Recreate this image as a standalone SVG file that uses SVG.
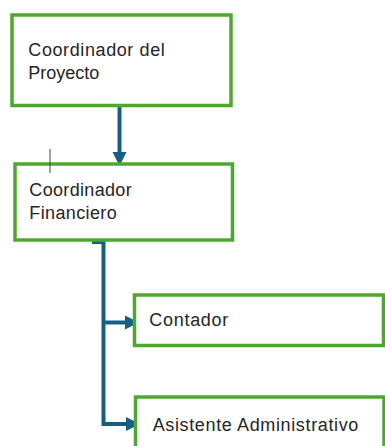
<svg xmlns="http://www.w3.org/2000/svg" width="385" height="446" viewBox="0 0 385 446">
  <style>
    .box { fill: #ffffff; stroke: #4ea72e; stroke-width: 3.5; }
    .lbl { font-family: "Liberation Sans", Arial, sans-serif; font-size: 18px; fill: #262626; }
    .conn { fill: none; stroke: #156082; stroke-width: 4; marker-end: url(#arrow); }
  </style>
  <defs>
    <marker id="arrow" markerUnits="userSpaceOnUse" markerWidth="14" markerHeight="14" refX="0" refY="7" orient="auto" overflow="visible">
      <path d="M0,0 L14,7 L0,14 Z" fill="#156082"/>
    </marker>
  </defs>
  <rect width="385" height="446" fill="#ffffff"/>

  <g id="connectors">
    <path class="conn" d="M119.5,107 V152"/>
    <path class="conn" d="M92,242 H103.5 V424 H126"/>
    <path class="conn" d="M103.5,322.5 H125"/>
  </g>

  <g id="node-coordinador-proyecto">
    <rect class="box" x="12" y="15" width="219" height="90.5"/>
    <text class="lbl" x="28.3" y="55.7" textLength="136.5" lengthAdjust="spacing">Coordinador del</text>
    <text class="lbl" x="28.3" y="78.7">Proyecto</text>
  </g>

  <g id="node-coordinador-financiero">
    <rect class="box" x="15" y="164" width="217.5" height="76"/>
    <text class="lbl" x="29.3" y="195.7" textLength="102.4" lengthAdjust="spacing">Coordinador</text>
    <text class="lbl" x="29.3" y="219" textLength="87.4" lengthAdjust="spacing">Financiero</text>
  </g>

  <g id="node-contador">
    <rect class="box" x="134.5" y="295" width="249" height="50.5"/>
    <text class="lbl" x="149.3" y="325.7" textLength="79" lengthAdjust="spacing">Contador</text>
  </g>

  <g id="node-asistente">
    <rect class="box" x="135.5" y="397" width="248.5" height="62"/>
    <text class="lbl" x="152.7" y="430.7" textLength="205.6" lengthAdjust="spacing">Asistente Administrativo</text>
  </g>

  <line x1="50" y1="149" x2="50" y2="173" stroke="#4a3f4f" stroke-width="1"/>
</svg>
